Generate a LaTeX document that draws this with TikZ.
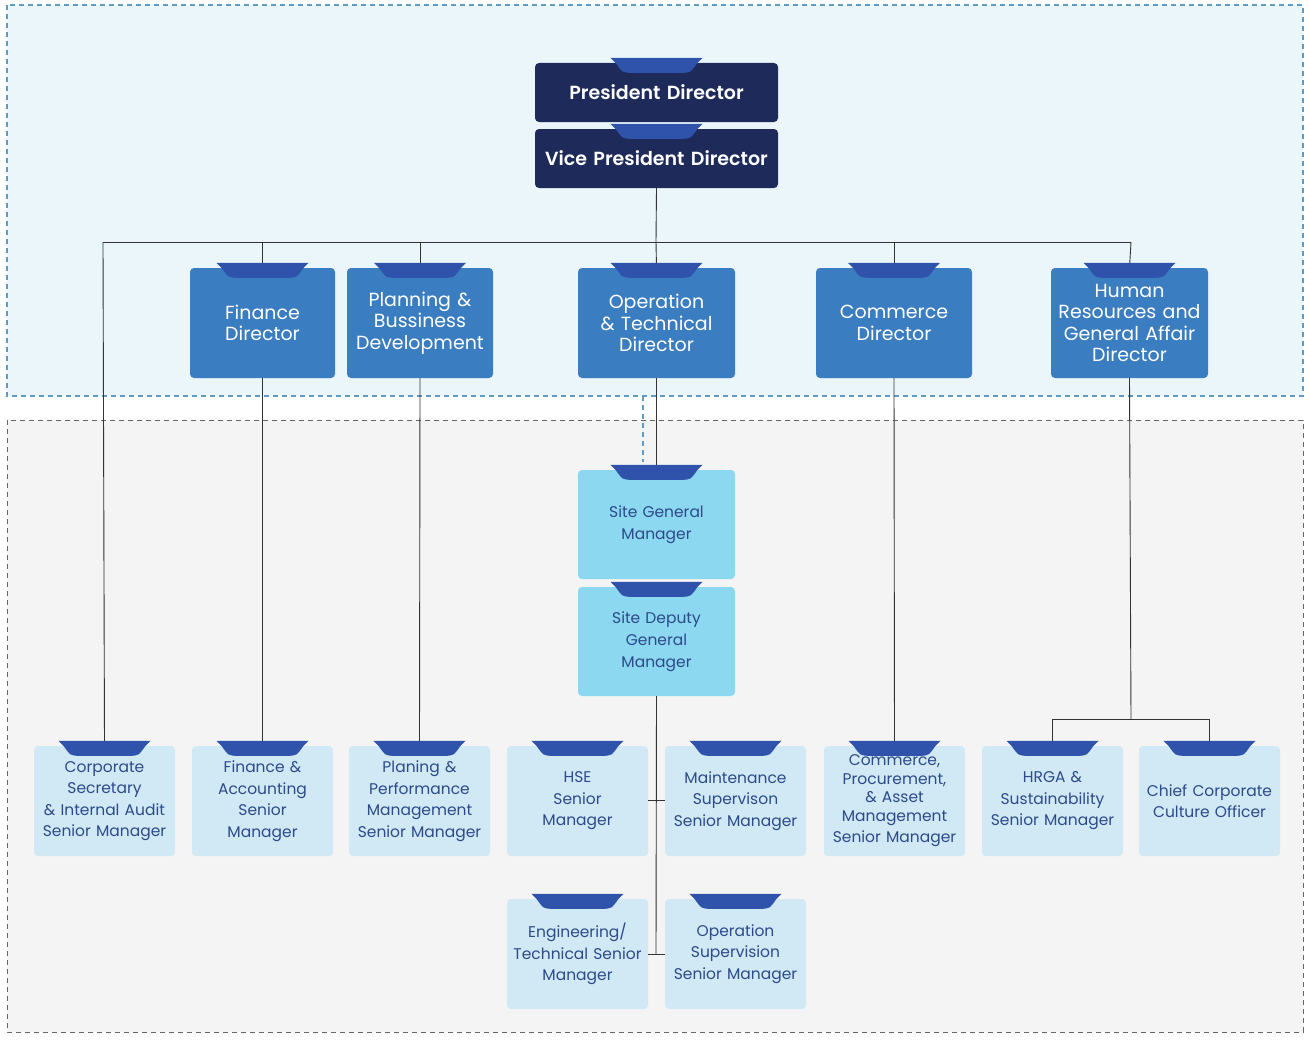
\documentclass[tikz,border=0pt]{standalone}
\usepackage{fontspec}
\setmainfont{Poppins}
\newfontfamily\semib{Poppins SemiBold}
\begin{document}
\definecolor{navy}{HTML}{1E2A5A}
\definecolor{dir}{HTML}{3A7DC0}
\definecolor{site}{HTML}{8BD8F0}
\definecolor{low}{HTML}{D0E9F4}
\definecolor{tabc}{HTML}{2F52AA}
\definecolor{txtd}{HTML}{2D4A8A}
\definecolor{topbg}{HTML}{EAF6FA}
\definecolor{topln}{HTML}{5B9BC6}
\definecolor{botbg}{HTML}{F4F4F4}
\begin{tikzpicture}[x=1pt,y=-1pt,
 box/.style={rounded corners=4pt,draw=none,align=center,inner sep=2pt},
 bnavy/.style={box,fill=navy,text=white,font=\fontsize{19}{22}\semib},
 bdir/.style={box,fill=dir,text=white,font=\fontsize{19}{21.5}\selectfont},
 bsite/.style={box,fill=site,text=txtd,font=\fontsize{15.5}{22}\selectfont},
 blow/.style={box,fill=low,text=txtd,font=\fontsize{15.5}{21.5}\selectfont},
 con/.style={draw=black!80,line width=0.9pt}]
\useasboundingbox (0,0) rectangle (1310,1041);
\fill[white] (0,0) rectangle (1310,1041);
\draw[fill=topbg,draw=topln,dashed,line width=1.6pt,dash pattern=on 5pt off 4pt] (7,5) rectangle (1303,396);
\draw[fill=botbg,draw=black!60,dashed,line width=0.9pt,dash pattern=on 5pt off 4pt] (7,420) rectangle (1303,1032);
\newcommand\bx[7]{\node[#6,minimum width={#4-#2},minimum height={#5-#3},text width={#4-#2-12}] (#1) at ({(#2+#4)/2},{(#3+#5)/2}) {#7};}
\newcommand\tb[1]{\begin{scope}[shift={(#1.north)}]\fill[tabc] (-46,-5) -- (46,-5) -- (41,0) .. controls (34,10) .. (24,10) -- (-24,10) .. controls (-34,10) .. (-41,0) -- cycle;\end{scope}}
\coordinate (hl) at (103,242); \coordinate (hrr) at (1131,242);
\coordinate (hm) at (656,242);
\draw[topln,line width=1.6pt,dash pattern=on 5pt off 4pt] (643,396) -- (643,462);
\bx{pd}{535}{63}{778}{122}{bnavy}{President Director}
\bx{vp}{535}{129}{778}{188}{bnavy}{Vice President Director}
\bx{fd}{190}{268}{335}{378}{bdir}{Finance\\Director}
\bx{pb}{347}{268}{493}{378}{bdir}{Planning \&\\Bussiness\\Development}
\bx{od}{578}{268}{735}{378}{bdir}{Operation\\\& Technical\\Director}
\bx{cd}{816}{268}{972}{378}{bdir}{Commerce\\Director}
\bx{hrd}{1051}{268}{1208}{378}{bdir}{Human\\Resources and\\General Affair\\Director}
\bx{sg}{578}{470}{735}{579}{bsite}{Site General\\Manager}
\bx{sd}{578}{587}{735}{696}{bsite}{Site Deputy\\General\\Manager}
\bx{l1}{34}{746}{175}{856}{blow}{Corporate\\Secretary\\\& Internal Audit\\Senior Manager}
\bx{l2}{192}{746}{333}{856}{blow}{Finance \&\\Accounting\\Senior\\Manager}
\bx{l3}{349}{746}{490}{856}{blow}{Planing \&\\Performance\\Management\\Senior Manager}
\bx{l4}{507}{746}{648}{856}{blow}{HSE\\Senior\\Manager\\[8pt]}
\bx{l5}{665}{746}{806}{856}{blow}{Maintenance\\Supervison\\Senior Manager\\[8pt]}
\bx{l6}{824}{746}{965}{856}{blow}{\fontsize{15.5}{18.5}\selectfont Commerce,\\Procurement,\\\& Asset\\Management\\Senior Manager}
\bx{l7}{982}{746}{1123}{856}{blow}{HRGA \&\\Sustainability\\Senior Manager\\[6pt]}
\bx{l8}{1139}{746}{1280}{856}{blow}{Chief Corporate\\Culture Officer\\[28pt]}
\bx{e1}{507}{899}{648}{1009}{blow}{Engineering/\\Technical Senior\\Manager}
\bx{e2}{665}{899}{806}{1009}{blow}{Operation\\Supervision\\Senior Manager}
\draw[con] (vp.south) -- (hm);
\draw[con] (hl) -- (hrr);
\draw[con] (hl) -- (l1.north);
\draw[con] (fd.north|-hl) -- (fd.north); \draw[con] (fd.south) -- (l2.north);
\draw[con] (pb.north|-hl) -- (pb.north); \draw[con] (pb.south) -- (l3.north);
\draw[con] (hm) -- (od.north); \draw[con] (od.south) -- (sg.north);
\draw[con] (cd.north|-hl) -- (cd.north); \draw[con] (cd.south) -- (l6.north);
\draw[con] (hrr) -- (hrd.north);
\coordinate (hj) at (1131,719);
\draw[con] (hrd.south) -- (hj);
\draw[con] (l7.north|-hj) -- (l8.north|-hj);
\draw[con] (l7.north|-hj) -- (l7.north);
\draw[con] (l8.north|-hj) -- (l8.north);
\coordinate (sb) at (656,954);
\draw[con] (sd.south) -- (sb);
\draw[con] (l4.east|-0,800) -- (l5.west|-0,800);
\draw[con] (e1.east) -- (e2.west);
\foreach \n in {pd,vp,fd,pb,od,cd,hrd,sg,sd,l1,l2,l3,l4,l5,l6,l7,l8,e1,e2}{\tb{\n}}
\end{tikzpicture}
\end{document}
